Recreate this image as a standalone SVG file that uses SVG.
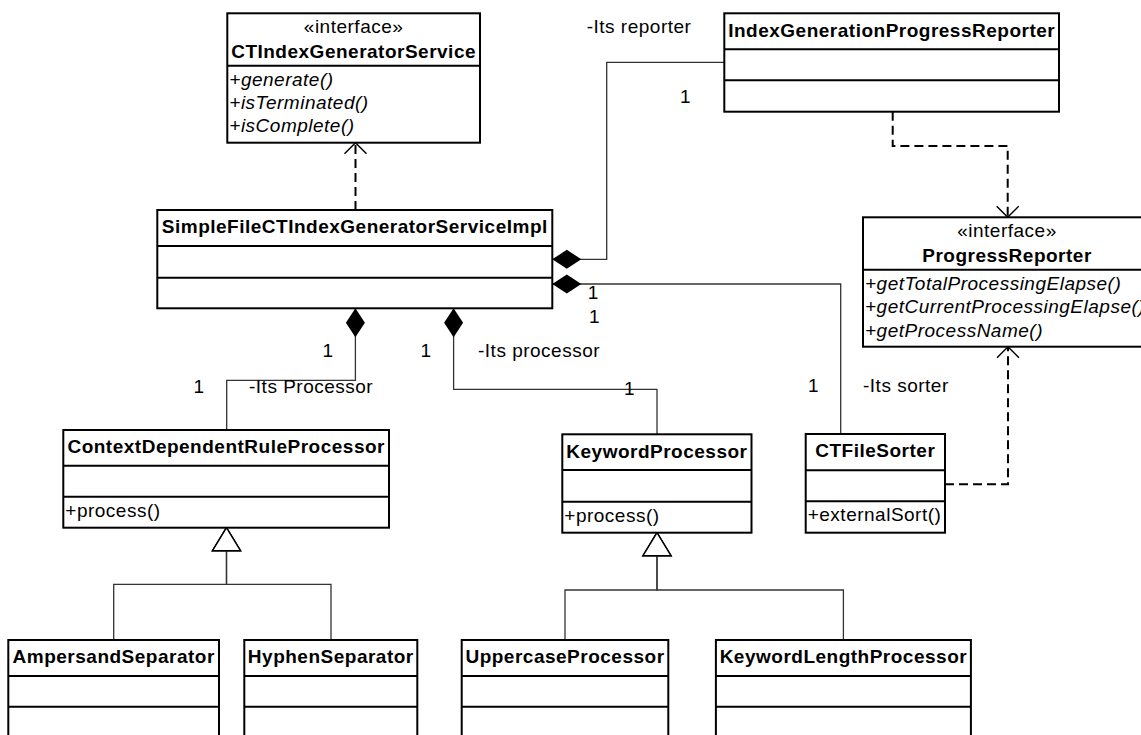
<svg xmlns="http://www.w3.org/2000/svg" width="1141" height="735" viewBox="0 0 1141 735">
  <style>
    text { font-family: "Liberation Sans", Arial, sans-serif; font-size: 19px; letter-spacing: 0.5px; fill: #000; }
    .title { font-weight: bold; text-anchor: middle; }
    .stereo { text-anchor: middle; }
    .op { font-style: italic; }
    .box { fill: #fff; stroke: #000; stroke-width: 2; }
    .sep { stroke: #000; stroke-width: 2; }
    .assoc { fill: none; stroke: #333; stroke-width: 1.3; }
    .dep { fill: none; stroke: #000; stroke-width: 2; stroke-dasharray: 9 5; }
    .gen { fill: none; stroke: #333; stroke-width: 1.3; }
  </style>
  <defs>
    <marker id="diamond" markerUnits="userSpaceOnUse" orient="auto" refX="0" refY="0" markerWidth="30" markerHeight="20" overflow="visible">
      <path d="M0,0 L14.5,-9.5 L29,0 L14.5,9.5 Z" fill="#000"/>
    </marker>
    <marker id="open-arrow" markerUnits="userSpaceOnUse" orient="auto" refX="0" refY="0" markerWidth="12" markerHeight="24" overflow="visible">
      <path d="M-11,-11 L0,0 L-11,11" fill="none" stroke="#000" stroke-width="1.5"/>
    </marker>
    <marker id="hollow-triangle" markerUnits="userSpaceOnUse" orient="auto" refX="0" refY="0" markerWidth="24" markerHeight="30" overflow="visible">
      <path d="M0,0 L-23,-14 L-23,14 Z" fill="#fff" stroke="#000" stroke-width="1.5"/>
    </marker>
  </defs>

  <rect width="1141" height="735" fill="#fff"/>

  <!-- connectors -->
  <g id="connectors">
    <!-- realization / dependency (dashed) -->
    <path class="dep" d="M355.5,210 V142.7" marker-end="url(#open-arrow)"/>
    <path class="dep" d="M892.7,111.7 V146 H1007.7 V217.3" marker-end="url(#open-arrow)"/>
    <path class="dep" d="M945,484.3 H1008 V346.7" marker-end="url(#open-arrow)"/>

    <!-- compositions -->
    <path class="assoc" d="M552.3,259.3 H606.7 V62.3 H724.3" marker-start="url(#diamond)"/>
    <path class="assoc" d="M552.3,284 H840.7 V434" marker-start="url(#diamond)"/>
    <path class="assoc" d="M355.4,308.3 V380.3 H226.7 V430" marker-start="url(#diamond)"/>
    <path class="assoc" d="M453.6,308.3 V389.3 H657 V434.3" marker-start="url(#diamond)"/>

    <!-- generalizations -->
    <path class="gen" d="M113.7,640 V584.3 H226.5 V527.7" marker-end="url(#hollow-triangle)"/>
    <path class="gen" d="M331,640 V584.3 H226.5 V527.7" marker-end="url(#hollow-triangle)"/>
    <path class="gen" d="M565,640 V590 H657 V532.7" marker-end="url(#hollow-triangle)"/>
    <path class="gen" d="M843.4,640 V590 H657 V532.7" marker-end="url(#hollow-triangle)"/>

    <!-- role names and multiplicities -->
    <text x="586.7" y="33.3">-Its reporter</text>
    <text x="680" y="102.7">1</text>
    <text x="587.7" y="299">1</text>
    <text x="589" y="323">1</text>
    <text x="322.5" y="356.7">1</text>
    <text x="420.5" y="356.7">1</text>
    <text x="478" y="356.7">-Its processor</text>
    <text x="193.6" y="393">1</text>
    <text x="249" y="393">-Its Processor</text>
    <text x="624" y="395">1</text>
    <text x="808" y="392">1</text>
    <text x="863" y="392">-Its sorter</text>
  </g>

  <!-- classes -->
  <g id="CTIndexGeneratorService">
    <rect class="box" x="227.3" y="13.3" width="252.7" height="129.4"/>
    <line class="sep" x1="227.3" y1="65.7" x2="480" y2="65.7"/>
    <text class="stereo" x="353.6" y="32.7">«interface»</text>
    <text class="title" x="353.6" y="58.3">CTIndexGeneratorService</text>
    <text class="op" x="229.3" y="85.5">+generate()</text>
    <text class="op" x="229.3" y="108.7">+isTerminated()</text>
    <text class="op" x="229.3" y="132">+isComplete()</text>
  </g>

  <g id="IndexGenerationProgressReporter">
    <rect class="box" x="724.3" y="13.3" width="334.7" height="98.4"/>
    <line class="sep" x1="724.3" y1="49.3" x2="1059" y2="49.3"/>
    <line class="sep" x1="724.3" y1="80.3" x2="1059" y2="80.3"/>
    <text class="title" x="891.7" y="36.7">IndexGenerationProgressReporter</text>
  </g>

  <g id="SimpleFileCTIndexGeneratorServiceImpl">
    <rect class="box" x="157.3" y="210" width="395" height="98.3"/>
    <line class="sep" x1="157.3" y1="246" x2="552.3" y2="246"/>
    <line class="sep" x1="157.3" y1="277.7" x2="552.3" y2="277.7"/>
    <text class="title" x="354.8" y="233.4">SimpleFileCTIndexGeneratorServiceImpl</text>
  </g>

  <g id="ProgressReporter">
    <rect class="box" x="863" y="217.3" width="288" height="129.4"/>
    <line class="sep" x1="863" y1="269.7" x2="1151" y2="269.7"/>
    <text class="stereo" x="1007" y="236.7">«interface»</text>
    <text class="title" x="1007" y="262.3">ProgressReporter</text>
    <text class="op" x="865" y="290">+getTotalProcessingElapse()</text>
    <text class="op" x="865" y="313.3">+getCurrentProcessingElapse()</text>
    <text class="op" x="865" y="336.7">+getProcessName()</text>
  </g>

  <g id="ContextDependentRuleProcessor">
    <rect class="box" x="63.3" y="430" width="325.7" height="97.7"/>
    <line class="sep" x1="63.3" y1="465.7" x2="389" y2="465.7"/>
    <line class="sep" x1="63.3" y1="496.7" x2="389" y2="496.7"/>
    <text class="title" x="226.2" y="453.4">ContextDependentRuleProcessor</text>
    <text x="65.3" y="516.7">+process()</text>
  </g>

  <g id="KeywordProcessor">
    <rect class="box" x="562.3" y="434.3" width="189.2" height="98.4"/>
    <line class="sep" x1="562.3" y1="470" x2="751.5" y2="470"/>
    <line class="sep" x1="562.3" y1="501.7" x2="751.5" y2="501.7"/>
    <text class="title" x="656.9" y="457.7">KeywordProcessor</text>
    <text x="564.3" y="521.7">+process()</text>
  </g>

  <g id="CTFileSorter">
    <rect class="box" x="805.7" y="434" width="139.3" height="98.7"/>
    <line class="sep" x1="805.7" y1="470.3" x2="945" y2="470.3"/>
    <line class="sep" x1="805.7" y1="501.3" x2="945" y2="501.3"/>
    <text class="title" x="875.3" y="457.4">CTFileSorter</text>
    <text x="807.7" y="521.3">+externalSort()</text>
  </g>

  <g id="AmpersandSeparator">
    <rect class="box" x="8.3" y="640" width="210.7" height="105"/>
    <line class="sep" x1="8.3" y1="676" x2="219" y2="676"/>
    <line class="sep" x1="8.3" y1="706.7" x2="219" y2="706.7"/>
    <text class="title" x="113.7" y="663.4">AmpersandSeparator</text>
  </g>

  <g id="HyphenSeparator">
    <rect class="box" x="244.3" y="640" width="173" height="105"/>
    <line class="sep" x1="244.3" y1="676" x2="417.3" y2="676"/>
    <line class="sep" x1="244.3" y1="706.7" x2="417.3" y2="706.7"/>
    <text class="title" x="330.8" y="663.4">HyphenSeparator</text>
  </g>

  <g id="UppercaseProcessor">
    <rect class="box" x="461.7" y="640" width="206.6" height="105"/>
    <line class="sep" x1="461.7" y1="676" x2="668.3" y2="676"/>
    <line class="sep" x1="461.7" y1="706.7" x2="668.3" y2="706.7"/>
    <text class="title" x="565" y="663.4">UppercaseProcessor</text>
  </g>

  <g id="KeywordLengthProcessor">
    <rect class="box" x="715.9" y="640" width="255" height="105"/>
    <line class="sep" x1="715.9" y1="676" x2="970.9" y2="676"/>
    <line class="sep" x1="715.9" y1="706.7" x2="970.9" y2="706.7"/>
    <text class="title" x="843.4" y="663.4">KeywordLengthProcessor</text>
  </g>
</svg>
